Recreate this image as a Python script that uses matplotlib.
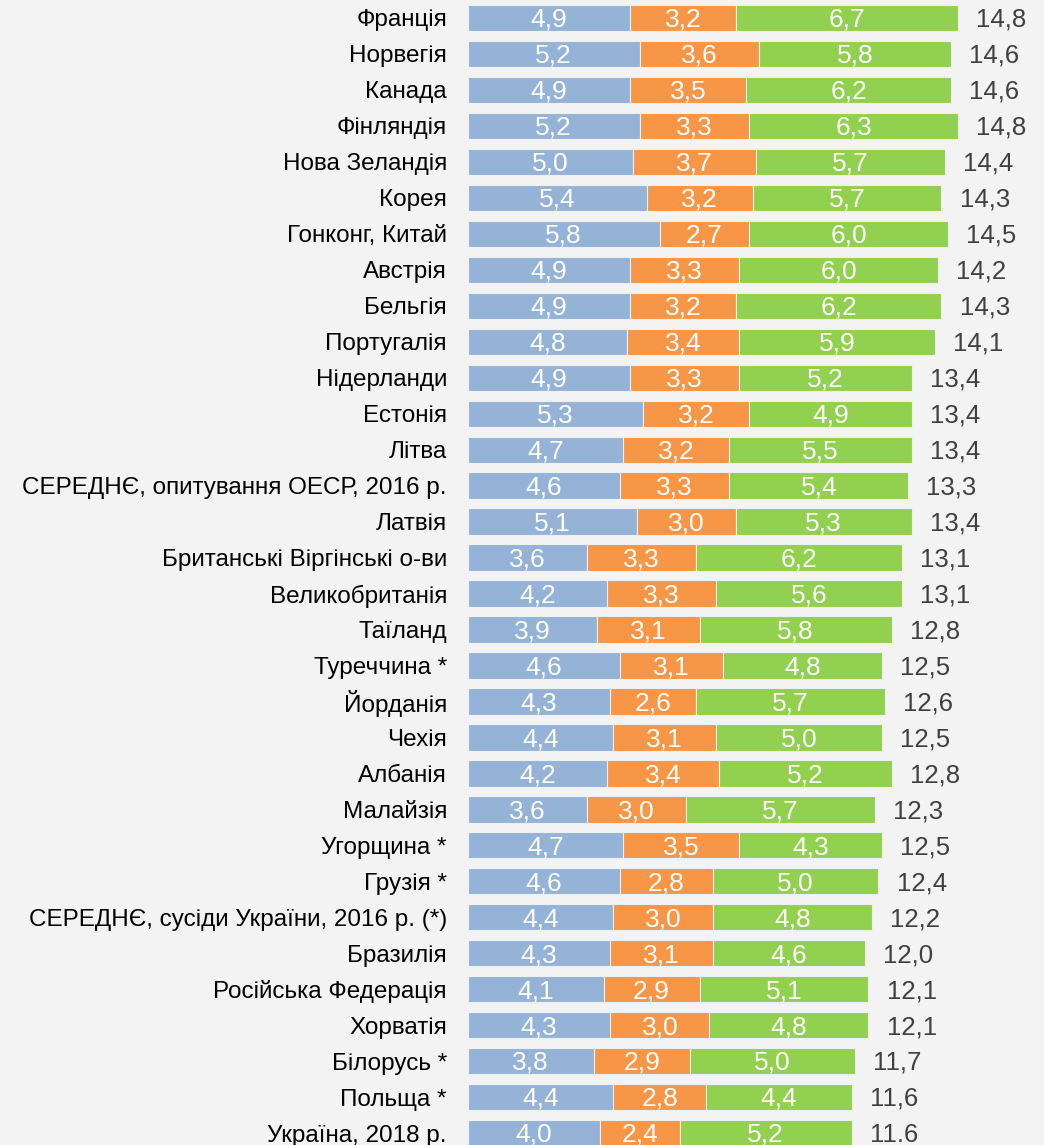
import matplotlib.pyplot as plt
import numpy as np

countries = [
    "Франція", "Норвегія", "Канада", "Фінляндія", "Нова Зеландія", "Корея",
    "Гонконг, Китай", "Австрія", "Бельгія", "Португалія", "Нідерланди",
    "Естонія", "Літва", "СЕРЕДНЄ, опитування ОЕСР, 2016 р.", "Латвія",
    "Британські Віргінські о-ви", "Великобританія", "Таїланд", "Туреччина *",
    "Йорданія", "Чехія", "Албанія", "Малайзія", "Угорщина *", "Грузія *",
    "СЕРЕДНЄ, сусіди України, 2016 р. (*)", "Бразилія", "Російська Федерація",
    "Хорватія", "Білорусь *", "Польща *", "Україна, 2018 р.",
]
part_blue = [4.9, 5.2, 4.9, 5.2, 5.0, 5.4, 5.8, 4.9, 4.9, 4.8, 4.9, 5.3, 4.7, 4.6, 5.1, 3.6,
             4.2, 3.9, 4.6, 4.3, 4.4, 4.2, 3.6, 4.7, 4.6, 4.4, 4.3, 4.1, 4.3, 3.8, 4.4, 4.0]
part_orange = [3.2, 3.6, 3.5, 3.3, 3.7, 3.2, 2.7, 3.3, 3.2, 3.4, 3.3, 3.2, 3.2, 3.3, 3.0, 3.3,
               3.3, 3.1, 3.1, 2.6, 3.1, 3.4, 3.0, 3.5, 2.8, 3.0, 3.1, 2.9, 3.0, 2.9, 2.8, 2.4]
part_green = [6.7, 5.8, 6.2, 6.3, 5.7, 5.7, 6.0, 6.0, 6.2, 5.9, 5.2, 4.9, 5.5, 5.4, 5.3, 6.2,
              5.6, 5.8, 4.8, 5.7, 5.0, 5.2, 5.7, 4.3, 5.0, 4.8, 4.6, 5.1, 4.8, 5.0, 4.4, 5.2]
total_labels = ["14,8", "14,6", "14,6", "14,8", "14,4", "14,3", "14,5", "14,2", "14,3", "14,1",
                "13,4", "13,4", "13,4", "13,3", "13,4", "13,1", "13,1", "12,8", "12,5", "12,6",
                "12,5", "12,8", "12,3", "12,5", "12,4", "12,2", "12,0", "12,1", "12,1", "11,7",
                "11,6", "11.6"]

BG = "#f3f3f3"
COLORS = ["#95b3d7", "#f79646", "#92d050"]

plt.rcParams["font.family"] = ["Liberation Sans", "DejaVu Sans"]

fig = plt.figure(figsize=(10.44, 11.45), dpi=100, facecolor=BG)
ax = fig.add_axes([0.448, 0.0, 0.552, 1.0])
ax.set_facecolor(BG)

y = np.arange(len(countries))
left = np.zeros(len(countries))
for values, color in zip([part_blue, part_orange, part_green], COLORS):
    values = np.array(values)
    ax.barh(y, values, left=left, height=0.73, color=color, edgecolor="#eef0ee", linewidth=0.8)
    for yi, l, v in zip(y, left, values):
        ax.text(l + v / 2, yi + 0.05, f"{v:.1f}".replace(".", ","), ha="center", va="center",
                color="white", fontsize=19)
    left = left + values

# totals sit just right of each stacked bar
for yi, end, lab in zip(y, left, total_labels):
    ax.text(end + 0.55, yi + 0.05, lab, ha="left", va="center", color="#404040", fontsize=18.5)

ax.set_xlim(0, 17.4)
ax.set_ylim(31.33, -0.5)
ax.set_yticks(y)
ax.set_yticklabels(countries, fontsize=17.5, color="black")
ax.tick_params(axis="y", length=0, pad=15)
ax.set_xticks([])
for s in ax.spines.values():
    s.set_visible(False)

fig.savefig("out.png", dpi=100, facecolor=BG)
